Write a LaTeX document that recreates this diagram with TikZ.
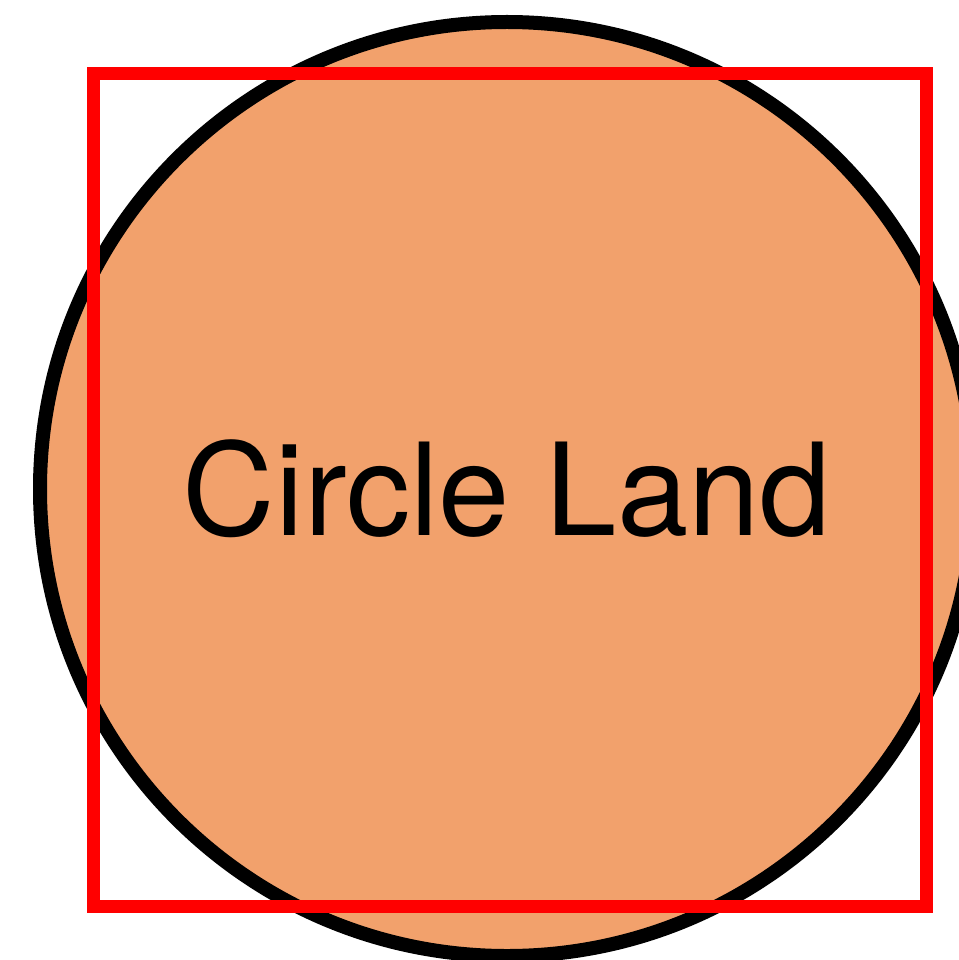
\documentclass[tikz,border=0pt]{standalone}
\usepackage{fontspec}
\setmainfont{TeX Gyre Heros}
\usepackage{xcolor}
\usepackage{tikz}
\definecolor{landorange}{HTML}{F2A16C}

\begin{document}
\begin{tikzpicture}[
    font=\fontsize{73}{88}\selectfont,
    land/.style={
        circle,
        draw=black,
        fill=landorange,
        minimum size=18.68cm,
        inner sep=0pt,
        line width=0.28cm
    },
    border/.style={
        draw=red,
        minimum width=16.66cm,
        minimum height=16.64cm,
        inner sep=0pt,
        line width=0.26cm
    }
]

\useasboundingbox (0,0) rectangle (19.16,-19.2);

\node[land] (circle) at (10.14,-9.78) {Circle Land};

\node[border] (frame) at (10.19,-9.8) {};

\end{tikzpicture}
\end{document}
